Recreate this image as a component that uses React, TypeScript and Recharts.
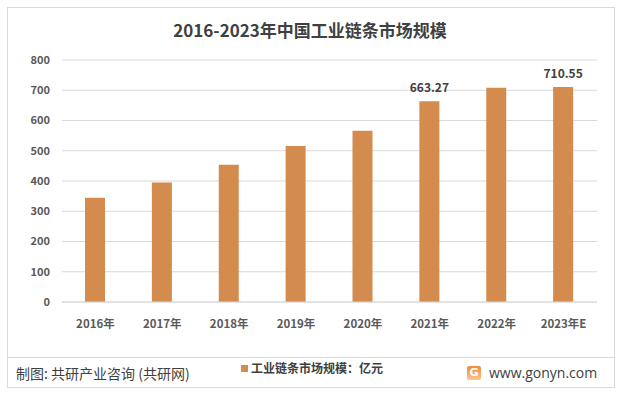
import React from "react";
import { BarChart, Bar, XAxis, YAxis, CartesianGrid, LabelList } from "recharts";

const categories = ["2016年", "2017年", "2018年", "2019年", "2020年", "2021年", "2022年", "2023年E"];
const marketSize = [345, 395, 454, 516, 566, 663.27, 708, 710.55];
const labelled = [false, false, false, false, false, true, false, true];
const yTicks = [0, 100, 200, 300, 400, 500, 600, 700, 800];

const data = categories.map((c, i) => ({ name: c, value: marketSize[i] }));

const FONT = "'Noto Sans CJK SC', 'Noto Sans', sans-serif";
const BAR = "#D38B4E";

const renderLabel = (props: any) => {
  const { x, y, width, value, index } = props;
  if (!labelled[index]) return null;
  return (
    <text x={x + width / 2} y={y - 9} textAnchor="middle" fontSize={12} fontWeight={700} fill="#404040" fontFamily={FONT}>
      {Number(value).toFixed(2)}
    </text>
  );
};

export default function App() {
  return (
    <div style={{ position: "absolute", left: 0, top: 0, width: 620, height: 395, background: "#fff", fontFamily: FONT }}>
      <div style={{ position: "absolute", left: 7, top: 7, width: 608, height: 381, border: "1px solid #d9d9d9", boxSizing: "border-box" }} />
      <div style={{ position: "absolute", left: 0, top: 17, width: 620, textAlign: "center", fontSize: 17, fontWeight: 700, color: "#404040" }}>
        2016-2023年中国工业链条市场规模
      </div>
      <BarChart width={620} height={395} data={data} margin={{ top: 60, right: 23, bottom: 63, left: 0 }}>
        <CartesianGrid vertical={false} stroke="#d9d9d9" />
        <XAxis
          dataKey="name"
          tickLine={false}
          axisLine={{ stroke: "#d9d9d9" }}
          tick={{ fontSize: 11.5, fill: "#595959", fontFamily: FONT, fontWeight: 700 }}
          tickMargin={12}
          interval={0}
        />
        <YAxis
          width={62}
          domain={[0, 800]}
          ticks={yTicks}
          tickLine={false}
          axisLine={false}
          tick={{ fontSize: 11, fill: "#595959", fontFamily: FONT, fontWeight: 700 }}
          tickMargin={6}
        />
        <Bar dataKey="value" fill={BAR} barSize={20} isAnimationActive={false}>
          <LabelList dataKey="value" content={renderLabel} />
        </Bar>
      </BarChart>
      <div style={{ position: "absolute", left: 7, top: 357, width: 608, height: 1, background: "#d9d9d9" }} />
      <div style={{ position: "absolute", left: 16, top: 363, fontSize: 14, lineHeight: "20px", color: "#404040" }}>制图: 共研产业咨询 (共研网)</div>
      <div style={{ position: "absolute", left: 241, top: 359, fontSize: 12, lineHeight: "18px", fontWeight: 700, color: "#404040", display: "flex", alignItems: "center" }}>
        <span style={{ display: "inline-block", width: 7, height: 7, background: BAR, marginRight: 3 }} />
        工业链条市场规模：亿元
      </div>
      <div style={{ position: "absolute", left: 467, top: 366, width: 14, height: 14, borderRadius: 2, background: "linear-gradient(180deg,#f08a3c,#f9c58f)", color: "#fff", fontSize: 11, fontWeight: 700, lineHeight: "14px", textAlign: "center", fontFamily: "'DejaVu Sans', sans-serif" }}>
        G
      </div>
      <div style={{ position: "absolute", left: 489, top: 363, fontSize: 14, lineHeight: "20px", color: "#404040", fontFamily: "'Open Sans', sans-serif" }}>www.gonyn.com</div>
    </div>
  );
}
